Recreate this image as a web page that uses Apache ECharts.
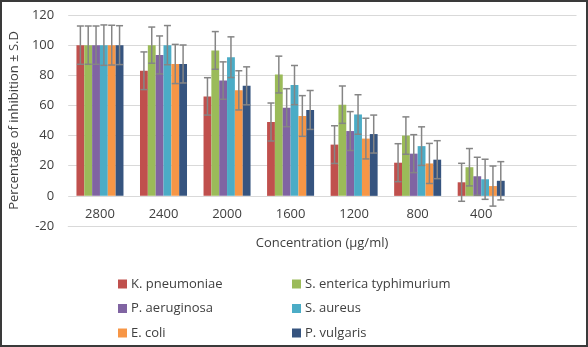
<!DOCTYPE html>
<html>
<head>
<meta charset="utf-8">
<script src="https://cdn.jsdelivr.net/npm/echarts@6/dist/echarts.min.js"></script>
<style>
html,body{margin:0;padding:0;background:#fff;}
#chart{width:588px;height:347px;}
</style>
</head>
<body>
<div id="chart"></div>
<script>
// Categories (concentration, µg/ml); last slot is an empty category as in the source
const categories = ['2800', '2400', '2000', '1600', '1200', '800', '400', ''];
const seriesNames = ['K. pneumoniae', 'S. enterica typhimurium', 'P. aeruginosa', 'S. aureus', 'E. coli', 'P. vulgaris'];
// Mean percentage of inhibition
const kpn   = [100, 83, 66, 49, 34, 22, 9];
const sent  = [100, 100, 96.5, 80.5, 60.5, 40, 19];
const paer  = [100, 93.5, 76.5, 58.5, 43, 28, 13];
const saur  = [100, 100, 92, 73.5, 54, 33, 11];
const ecoli = [100, 87.5, 70, 53, 38, 21.5, 6.5];
const pvul  = [100, 87.5, 73, 57, 41, 24, 10];
// Standard deviations
const kpnSD   = [12.7, 12.5, 12.4, 12.6, 12.5, 12.6, 12.6];
const sentSD  = [12.7, 12, 12.5, 12.2, 12.4, 12.4, 12.4];
const paerSD  = [12.7, 12.6, 12.4, 12.6, 12.9, 12.6, 12.6];
const saurSD  = [13.4, 13, 13.5, 13, 13.1, 12.8, 13.3];
const ecoliSD = [13.2, 13, 13, 13.5, 13.5, 13.3, 13.3];
const pvulSD  = [12.9, 12.6, 12.6, 12.9, 12.6, 12.6, 12.7];
// Y axis ticks
const yMin = -20, yMax = 120, yStep = 20;

const values = [kpn, sent, paer, saur, ecoli, pvul];
const sds = [kpnSD, sentSD, paerSD, saurSD, ecoliSD, pvulSD];
const colors = ['#c0504d', '#9bbb59', '#8064a2', '#4bacc6', '#f79646', '#36547f'];
const FONT = '"Open Sans", sans-serif';
const TXT = '#404040';
const GAP = 0.26;
const N = seriesNames.length;

const chart = echarts.init(document.getElementById('chart'));

const series = [];
values.forEach((v, i) => {
  series.push({
    name: seriesNames[i],
    type: 'bar',
    data: v,
    barGap: '0%',
    barCategoryGap: (GAP * 100) + '%',
    itemStyle: { color: colors[i] },
    emphasis: { disabled: true }
  });
});
values.forEach((v, i) => {
  series.push({
    name: seriesNames[i] + ' SD',
    type: 'custom',
    z: 5,
    silent: true,
    encode: { x: 0, y: 1 },
    data: v.map((m, k) => [k, m, sds[i][k]]),
    renderItem: function (params, api) {
      const k = api.value(0), m = api.value(1), s = api.value(2);
      const band = api.size([1, 0])[0];
      const bw = band * (1 - GAP) / N;
      const off = (i - (N - 1) / 2) * bw;
      const top = api.coord([k, m + s]);
      const bot = api.coord([k, m - s]);
      const x = top[0] + off;
      const cap = 3.5;
      const st = { stroke: '#858585', lineWidth: 1.5 };
      return {
        type: 'group',
        children: [
          { type: 'line', shape: { x1: x, y1: top[1], x2: x, y2: bot[1] }, style: st },
          { type: 'line', shape: { x1: x - cap, y1: top[1], x2: x + cap, y2: top[1] }, style: st },
          { type: 'line', shape: { x1: x - cap, y1: bot[1], x2: x + cap, y2: bot[1] }, style: st }
        ]
      };
    }
  });
});

const legendCommon = {
  orient: 'vertical',
  icon: 'rect',
  itemWidth: 9,
  itemHeight: 9,
  itemGap: 10.5,
  top: 272,
  selectedMode: false,
  textStyle: { fontFamily: FONT, fontSize: 13, color: TXT, lineHeight: 14, padding: [0, 0, 0, -1] }
};

chart.setOption({
  animation: false,
  grid: { left: 66, right: 11.5, top: 15, bottom: 121, containLabel: false },
  xAxis: {
    type: 'category',
    data: categories,
    axisTick: { show: false },
    axisLine: { onZero: false, lineStyle: { color: '#d9d9d9', width: 1 } },
    axisLabel: { fontFamily: FONT, fontSize: 13, color: TXT, margin: -18, interval: 0 },
    splitLine: { show: false }
  },
  yAxis: {
    type: 'value',
    min: yMin, max: yMax, interval: yStep,
    name: 'Percentage of inhibition ± S.D',
    nameLocation: 'middle',
    nameGap: 34,
    nameTextStyle: { fontFamily: FONT, fontSize: 13, color: TXT },
    axisLine: { show: false },
    axisTick: { show: false },
    axisLabel: { fontFamily: FONT, fontSize: 13, color: TXT, margin: 14 },
    splitLine: { lineStyle: { color: '#d9d9d9', width: 1 } }
  },
  legend: [
    Object.assign({}, legendCommon, { left: 113, data: [seriesNames[0], seriesNames[2], seriesNames[4]] }),
    Object.assign({}, legendCommon, { left: 287, data: [seriesNames[1], seriesNames[3], seriesNames[5]] })
  ],
  graphic: [
    {
      type: 'text', x: 322, y: 243,
      style: { text: 'Concentration (µg/ml)', font: '13px ' + FONT, fill: TXT, align: 'center', verticalAlign: 'middle' }
    },
    {
      type: 'rect', z: 100, silent: true,
      shape: { x: 1, y: 1, width: 586, height: 345 },
      style: { fill: 'none', stroke: '#3a3a3a', lineWidth: 2 }
    }
  ],
  series: series
});
</script>
</body>
</html>
